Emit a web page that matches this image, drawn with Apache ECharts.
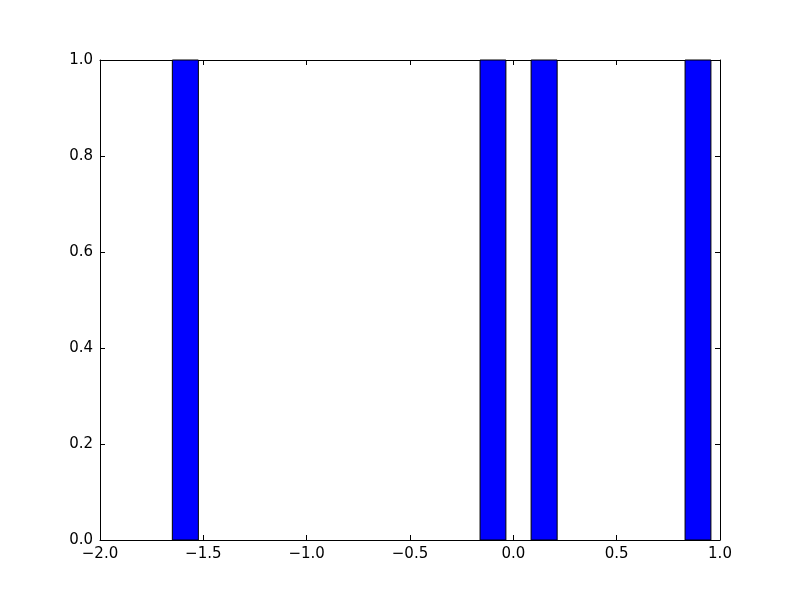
<!DOCTYPE html>
<html>
<head>
<meta charset="utf-8">
<script src="https://cdn.jsdelivr.net/npm/echarts@6/dist/echarts.min.js"></script>
<style>html,body{margin:0;padding:0;background:#fff}#c{width:800px;height:600px}</style>
</head>
<body>
<div id="c"></div>
<script>
// Histogram bins
const binLeft  = [-1.650, -0.161, 0.086, 0.831];
const binRight = [-1.524, -0.036, 0.212, 0.956];
const counts   = [1, 1, 1, 1];
const xTicks = [-2.0, -1.5, -1.0, -0.5, 0.0, 0.5, 1.0];
const yTicks = [0.0, 0.2, 0.4, 0.6, 0.8, 1.0];

const data = binLeft.map((l, i) => [l, binRight[i], counts[i]]);
const fmt = v => (v < 0 ? '\u2212' + Math.abs(v).toFixed(1) : v.toFixed(1));
const font = 'DejaVu Sans';
const common = {
  axisLine: {show: true, onZero: false, lineStyle: {color: '#000', width: 1}},
  axisTick: {show: true, inside: true, length: 5, lineStyle: {color: '#000', width: 1}},
  splitLine: {show: false}
};
const chart = echarts.init(document.getElementById('c'), null, {renderer: 'canvas'});
chart.setOption({
  animation: false,
  backgroundColor: '#fff',
  grid: {left: 100, right: 80, top: 60, bottom: 60, containLabel: false},
  xAxis: [
    Object.assign({type: 'value', position: 'bottom', min: -2, max: 1, interval: 0.5,
      axisLabel: {show: true, formatter: fmt, color: '#000', fontFamily: font, fontSize: 15, margin: 7}}, common),
    Object.assign({type: 'value', position: 'top', min: -2, max: 1, interval: 0.5,
      axisLabel: {show: false}}, common)
  ],
  yAxis: [
    Object.assign({type: 'value', position: 'left', min: 0, max: 1, interval: 0.2,
      axisLabel: {show: true, formatter: fmt, color: '#000', fontFamily: font, fontSize: 15, margin: 7}}, common),
    Object.assign({type: 'value', position: 'right', min: 0, max: 1, interval: 0.2,
      axisLabel: {show: false}}, common)
  ],
  series: [{
    type: 'custom',
    xAxisIndex: 0, yAxisIndex: 0,
    data: data,
    renderItem: function (params, api) {
      const p1 = api.coord([api.value(0), api.value(2)]);
      const p2 = api.coord([api.value(1), 0]);
      return {
        type: 'rect',
        shape: {x: p1[0], y: p1[1], width: p2[0] - p1[0], height: p2[1] - p1[1]},
        style: {fill: '#0000ff', stroke: '#000', lineWidth: 1}
      };
    },
    z: 1
  }]
});
</script>
</body>
</html>
